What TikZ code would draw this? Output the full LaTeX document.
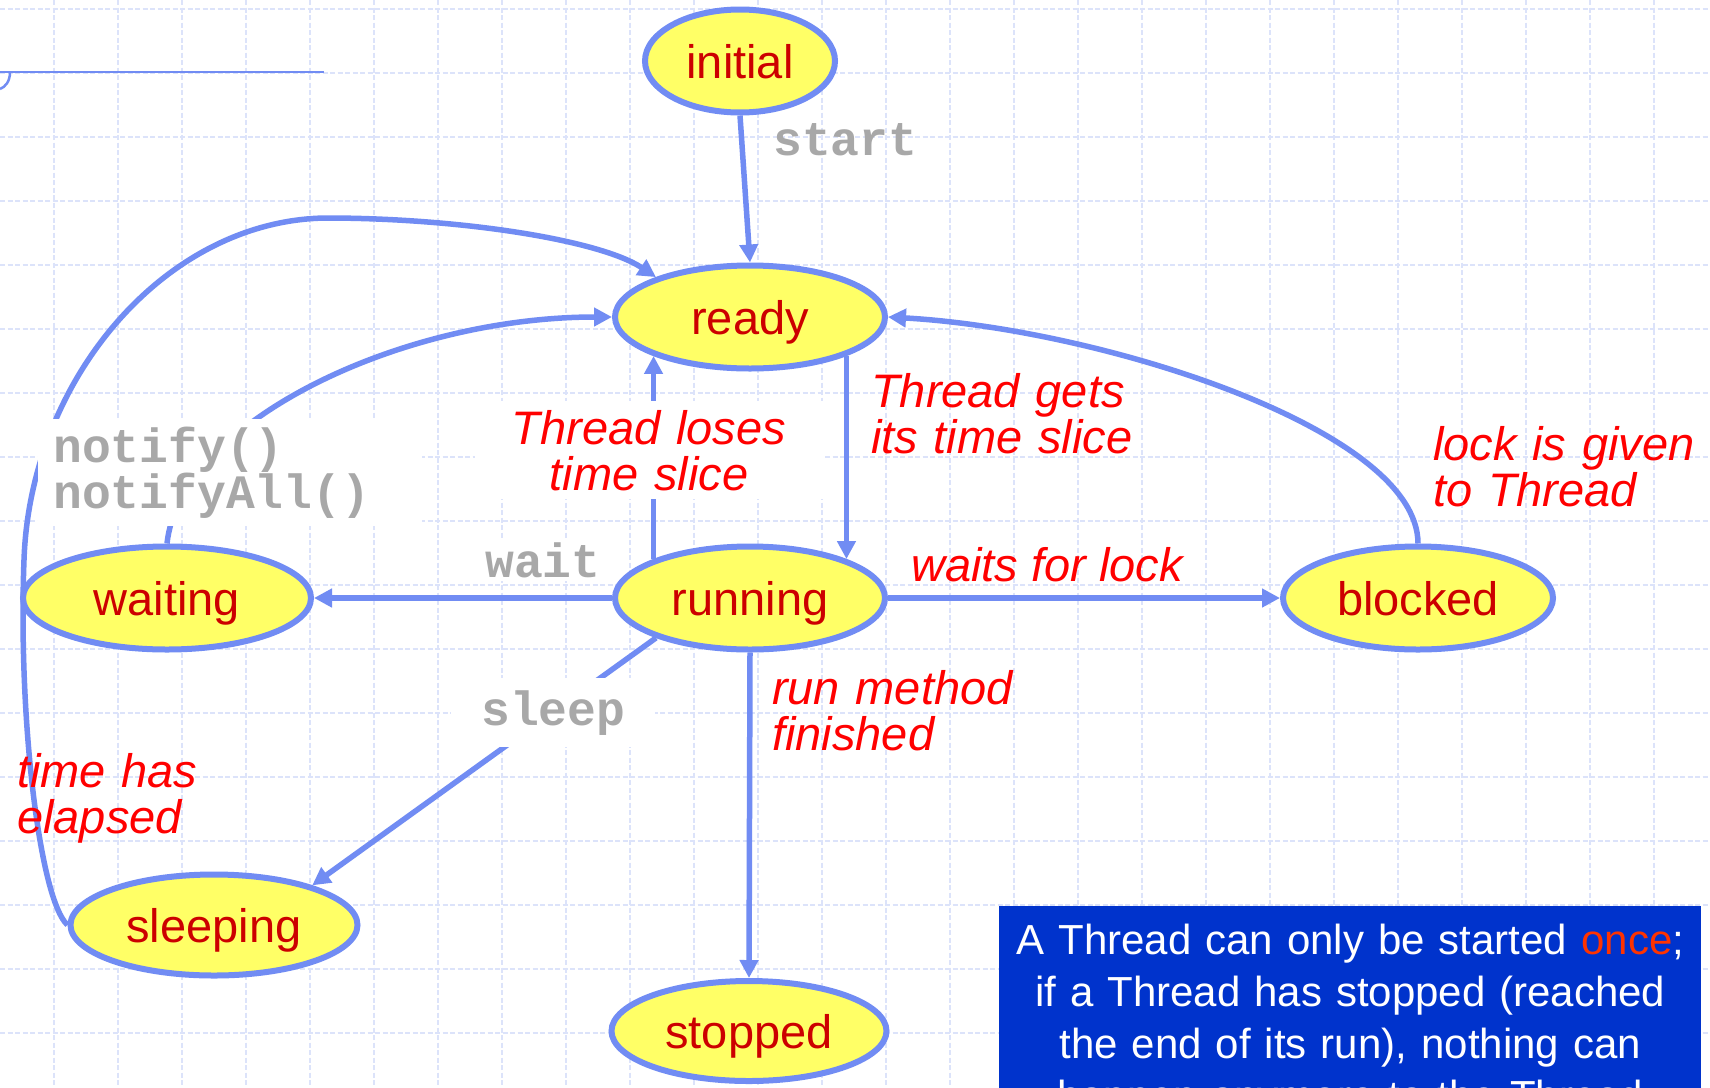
\documentclass[tikz,border=0pt]{standalone}
\usepackage{fontspec}
\setmainfont{Liberation Sans}
\setmonofont{Liberation Mono}
\usepackage{tikz}
\usetikzlibrary{arrows.meta,shapes.geometric}
\definecolor{tsblue}{HTML}{718CF3}
\definecolor{tsyellow}{HTML}{FFFF66}
\definecolor{tsdark}{HTML}{CC0000}
\definecolor{tsred}{HTML}{FF0000}
\definecolor{tsgrey}{HTML}{A8A8A8}
\definecolor{tsgrid}{HTML}{DCE3FA}
\definecolor{tsnote}{HTML}{0033CC}
\definecolor{tsonce}{HTML}{FF3300}
\tikzset{
  state/.style  = {ellipse, draw=tsblue, line width=6pt, fill=tsyellow,
                   text=tsdark, font=\fontsize{47}{47}\selectfont,
                   inner sep=0pt, minimum width=270pt, minimum height=103pt,
                   text height=44pt, text depth=10pt},
  ed/.style     = {-{Triangle[length=18pt,width=18pt]}, draw=tsblue, line width=5.5pt},
  cond/.style   = {text=tsred, font=\fontsize{47}{46}\selectfont\itshape,
                   inner sep=0pt, align=left},
  call/.style   = {text=tsgrey, font=\fontsize{48}{45}\selectfont\ttfamily\bfseries,
                   inner sep=0pt, align=left},
  gridln/.style = {draw=tsgrid, line width=1.3pt, dash pattern=on 5pt off 2.5pt},
}

\begin{document}
\begin{tikzpicture}[x=1pt,y=-1pt]
  \useasboundingbox (0,0) rectangle (1710,1087);
  \clip (0,0) rectangle (1710,1087);
  \fill[white] (0,0) rectangle (1710,1087);
  % background grid
  \foreach \gx in {54,118,...,1710} \draw[gridln] (\gx,0) -- (\gx,1087);
  \foreach \gy in {9,73,...,1087} \draw[gridln] (0,\gy) -- (1710,\gy);
  % title rule
  \draw[tsblue, line width=2.5pt] (0,72) -- (324,72);
  \draw[tsblue, line width=2.5pt] (10,72) .. controls (10,82) and (5,87) .. (0,89);

  % states
  \node[state, minimum width=190pt] (initial) at (740,61) {initial};
  \node[state] (ready) at (750,317) {ready};
  \node[state] (running) at (750,598) {running};
  \node[state, minimum width=288pt] (waiting) at (167,598) {waiting};
  \node[state] (blocked) at (1418,598) {blocked};
  \node[state, minimum width=287pt, minimum height=101pt] (sleeping) at (214,925) {sleeping};
  \node[state, minimum width=275pt, minimum height=100pt] (stopped) at (749,1031) {stopped};

  % transitions
  \draw[ed] (initial.south) -- (ready.north);
  \draw[ed] (ready.-22) -- (running.22);
  \draw[ed] (running.158) -- (ready.202);
  \draw[ed] (running.west) -- (waiting.east);
  \draw[ed] (running.east) -- (blocked.west);
  \draw[ed] (running.south) -- (stopped.north);
  \draw[ed] (running.203) -- (sleeping.22);
  \draw[ed] (blocked.north) .. controls +(0,-114) and +(213,12) .. (ready.east);
  \draw[ed] (waiting.north) .. controls +(13,-121) and +(-212,0) .. (ready.west);
  \draw[ed] (sleeping.west) .. controls (40,900) and (18,720) .. (24,560)
            .. controls (30,380) and (165,220) .. (326,218)
            .. controls (460,218) and (600,240) .. (ready.157);

  % labels
  \node[call, anchor=base west] (start) at (773,155) {start};
  \node[cond, anchor=base west, text width=300pt] (gets) at (871,407) {Thread gets\\its time slice};
  \node[cond, fill=white, anchor=base, align=center, text width=292pt,
        inner xsep=28pt, inner ysep=9pt] (loses) at (649,444) {Thread loses\\time slice};
  \node[cond, anchor=base west] (waitsfor) at (911,581) {waits for lock};
  \node[cond, anchor=base west, text width=270pt] (given) at (1433,460) {lock is given\\to Thread};
  \node[cond, anchor=base west, text width=280pt] (finished) at (772,704) {run method\\finished};
  \node[cond, anchor=base west, text width=200pt] (elapsed) at (17,787) {time has\\elapsed};
  \node[call, fill=white, anchor=base west, text width=354pt,
        inner xsep=15pt, inner ysep=8pt] (notify) at (38,462) {notify()\\notifyAll()};
  \node[call, fill=white, anchor=base west, inner sep=4pt] (wait) at (481,577) {wait};
  \node[call, fill=white, anchor=base west, inner xsep=30pt, inner ysep=12pt] (sleep) at (451,725) {sleep};

  % note box
  \node[fill=tsnote, text=white, anchor=north west, inner xsep=10pt, inner ysep=18pt,
        text width=682pt, align=center, font=\fontsize{42}{52}\selectfont] (note) at (999,906)
       {A Thread can only be started \textcolor{tsonce}{once};\\
        if a Thread has stopped (reached\\
        the end of its run), nothing can\\
        happen anymore to the Thread};
\end{tikzpicture}
\end{document}
